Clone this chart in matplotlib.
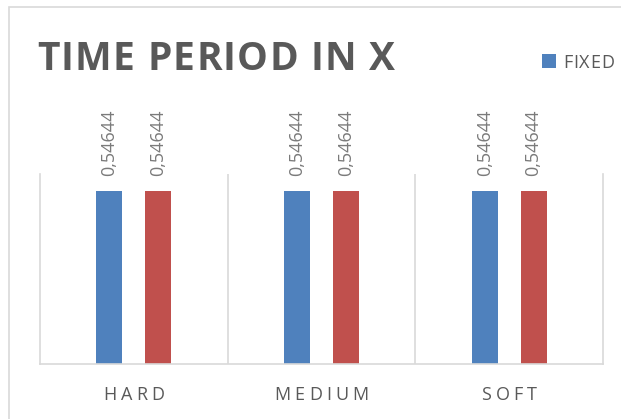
import matplotlib
matplotlib.use("Agg")
import matplotlib.pyplot as plt
from matplotlib.patches import Rectangle

categories = ["HARD", "MEDIUM", "SOFT"]
fixed_values = [0.54644, 0.54644, 0.54644]
second_values = [0.54644, 0.54644, 0.54644]
series_names = ["FIXED", "OTHER"]
value_labels = ["0,54644", "0,54644", "0,54644"]
title = "TIME PERIOD IN X"

W, H = 621, 419
plt.rcParams['font.family'] = ['Open Sans', 'DejaVu Sans']
fig = plt.figure(figsize=(W / 100, H / 100), dpi=100)
renderer = fig.canvas.get_renderer()


def char_widths(s, **kw):
    widths = []
    for ch in s:
        if ch == ' ':
            widths.append(None)
            continue
        t = fig.text(0, 0, ch, **kw)
        bb = t.get_window_extent(renderer)
        widths.append(bb.width)
        t.remove()
    return widths


def spaced_text(s, x0, y, tracking, space_px, ha='left', **kw):
    ws = char_widths(s, **kw)
    adv = [(space_px if w is None else w) for w in ws]
    total = sum(adv) + tracking * (len(s) - 1)
    if ha == 'center':
        x0 = x0 - total / 2
    cur = x0
    for ch, a in zip(s, adv):
        if ch != ' ':
            fig.text(cur / W, 1 - y / H, ch, ha='left', va='baseline', **kw)
        cur += a + tracking


def fit_text(s, x0, x1, y, space_px, **kw):
    ws = char_widths(s, **kw)
    adv = [(space_px if w is None else w) for w in ws]
    tracking = ((x1 - x0) - sum(adv)) / (len(s) - 1)
    spaced_text(s, x0, y, tracking, space_px, **kw)


# outer chart border (cropped at right/bottom)
fig.patches.append(Rectangle((9 / W, -0.1), 1.2, (H - 7) / H + 0.1, transform=fig.transFigure,
                             fill=False, edgecolor='#d9d9d9', linewidth=1.2))

ax_l, ax_r, ax_t, ax_b = 40, 603, 174, 364
ax = fig.add_axes([ax_l / W, (H - ax_b) / H, (ax_r - ax_l) / W, (ax_b - ax_t) / H])
x = list(range(len(categories)))
off, bw = 0.13, 0.138
blue, red = '#4F81BD', '#C0504D'
b1 = ax.bar([i - off for i in x], fixed_values, bw, color=blue)
b2 = ax.bar([i + off for i in x], second_values, bw, color=red)

for bars in (b1, b2):
    for rect, lab in zip(bars, value_labels):
        ax.annotate(lab, (rect.get_x() + rect.get_width() / 2, rect.get_height()),
                    xytext=(0, 11), textcoords='offset points', rotation=90,
                    ha='center', va='bottom', fontsize=13, color='#7a7a7a')

ax.set_xlim(-0.5, 2.5)
ax.set_ylim(0, 0.6)
ax.set_yticks([])
ax.set_xticks([])
for xv in [0.5, 1.5]:
    ax.axvline(xv, color='#d9d9d9', linewidth=1.2)
ax.spines['top'].set_visible(False)
for s in ['left', 'right', 'bottom']:
    ax.spines[s].set_color('#d9d9d9')
    ax.spines[s].set_linewidth(1.2)

# category labels with letter spacing
cat_w = (ax_r - ax_l) / len(categories)
for i, c in enumerate(categories):
    cx = ax_l + cat_w * (i + 0.5)
    spaced_text(c, cx, 400, 4.2, 5, ha='center', fontsize=13, color='#595959')

# title with letter spacing
fit_text(title, 37, 395, 70, 10, fontsize=28, fontweight='bold', color='#595959')

# legend (only first entry visible, rest cropped)
fig.patches.append(Rectangle((542 / W, 1 - 68 / H), 14 / W, 14 / H, transform=fig.transFigure,
                             facecolor=blue, edgecolor='none'))
spaced_text(series_names[0], 563, 68, 0.8, 5, fontsize=13, color='#595959')

fig.savefig("out.png", dpi=100)
